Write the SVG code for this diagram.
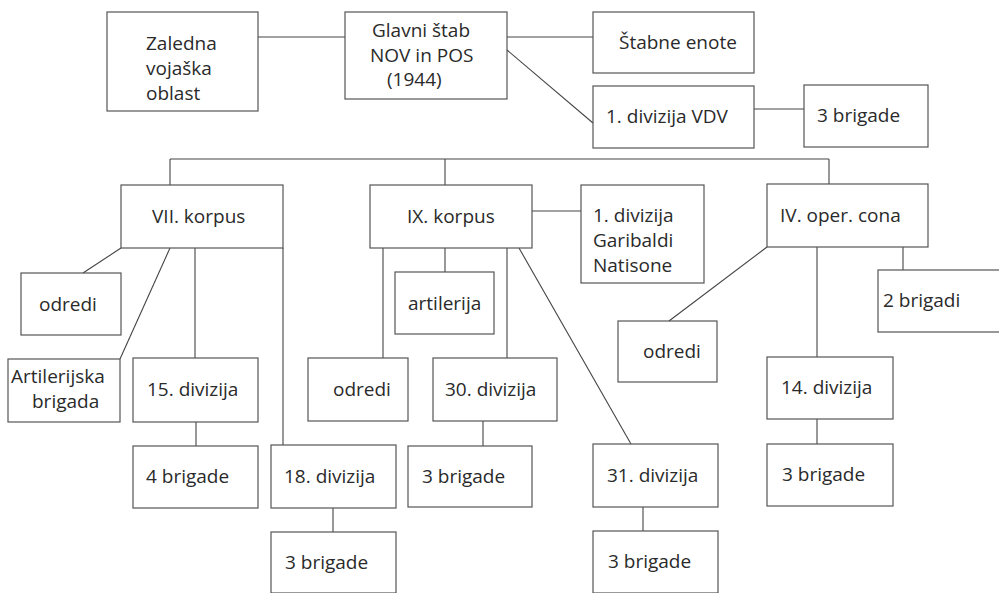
<svg xmlns="http://www.w3.org/2000/svg" width="999" height="593" viewBox="0 0 999 593">
<style>
rect.b{fill:none;stroke:#555;stroke-width:1.2}
.c line{stroke:#444;stroke-width:1.1}
text{font-family:"Open Sans","DejaVu Sans",sans-serif;font-size:19px;fill:#2a2a2a}
</style>
<rect width="999" height="593" fill="#fff"/>
<g class="c" id="connectors">
<line x1="258" y1="37" x2="345" y2="37"/>
<line x1="507" y1="37" x2="593" y2="37"/>
<line x1="507" y1="50" x2="593" y2="123"/>
<line x1="754" y1="109" x2="804" y2="109"/>
<line x1="170" y1="159" x2="829" y2="159"/>
<line x1="170" y1="159" x2="170" y2="185"/>
<line x1="445" y1="159" x2="445" y2="185"/>
<line x1="829" y1="159" x2="829" y2="184"/>
<line x1="121" y1="248" x2="83" y2="273"/>
<line x1="170" y1="248" x2="120" y2="359"/>
<line x1="195" y1="248" x2="195" y2="358"/>
<line x1="283" y1="248" x2="283" y2="445"/>
<line x1="196" y1="422" x2="196" y2="446"/>
<line x1="333" y1="508" x2="333" y2="532"/>
<line x1="532" y1="211" x2="581" y2="211"/>
<line x1="383" y1="248" x2="383" y2="358"/>
<line x1="445" y1="248" x2="445" y2="272"/>
<line x1="507" y1="248" x2="507" y2="358"/>
<line x1="519" y1="248" x2="631" y2="444"/>
<line x1="483" y1="421" x2="483" y2="446"/>
<line x1="643" y1="507" x2="643" y2="531"/>
<line x1="767" y1="247" x2="669" y2="321"/>
<line x1="817" y1="247" x2="817" y2="357"/>
<line x1="903" y1="247" x2="903" y2="270"/>
<line x1="817" y1="419" x2="817" y2="444"/>
</g>
<g id="zaledna"><rect class="b" x="107" y="12" width="151" height="99"/><text x="146" y="50">Zaledna</text><text x="146" y="75">vojaška</text><text x="146" y="100">oblast</text></g>
<g id="glavni"><rect class="b" x="345" y="12" width="162" height="87"/><text x="372" y="37">Glavni štab</text><text x="370" y="62">NOV in POS</text><text x="387" y="86">(1944)</text></g>
<g id="stabne"><rect class="b" x="593" y="12" width="161" height="61"/><text x="619" y="49">Štabne enote</text></g>
<g id="vdv"><rect class="b" x="593" y="86" width="161" height="62"/><text x="606" y="123">1. divizija VDV</text></g>
<g id="vdv-brig"><rect class="b" x="804" y="85" width="124" height="62"/><text x="817" y="122">3 brigade</text></g>
<g id="vii"><rect class="b" x="121" y="185" width="162" height="63"/><text x="152" y="223">VII. korpus</text></g>
<g id="vii-odredi"><rect class="b" x="21" y="273" width="100" height="62"/><text x="39" y="311">odredi</text></g>
<g id="art-brig"><rect class="b" x="8" y="359" width="112" height="63"/><text x="11" y="383">Artilerijska</text><text x="32" y="408">brigada</text></g>
<g id="d15"><rect class="b" x="133" y="358" width="125" height="64"/><text x="147" y="396">15. divizija</text></g>
<g id="d15-brig"><rect class="b" x="133" y="446" width="125" height="62"/><text x="146" y="483">4 brigade</text></g>
<g id="d18"><rect class="b" x="271" y="445" width="125" height="63"/><text x="284" y="483">18. divizija</text></g>
<g id="d18-brig"><rect class="b" x="271" y="532" width="125" height="61"/><text x="285" y="569">3 brigade</text></g>
<g id="ix"><rect class="b" x="370" y="185" width="162" height="63"/><text x="407" y="223">IX. korpus</text></g>
<g id="garibaldi"><rect class="b" x="581" y="185" width="123" height="98"/><text x="593" y="222">1. divizija</text><text x="593" y="247">Garibaldi</text><text x="593" y="272">Natisone</text></g>
<g id="artilerija"><rect class="b" x="395" y="272" width="99" height="62"/><text x="408" y="310">artilerija</text></g>
<g id="ix-odredi"><rect class="b" x="308" y="358" width="100" height="63"/><text x="333" y="396">odredi</text></g>
<g id="d30"><rect class="b" x="433" y="358" width="124" height="63"/><text x="445" y="396">30. divizija</text></g>
<g id="d30-brig"><rect class="b" x="408" y="446" width="124" height="61"/><text x="422" y="483">3 brigade</text></g>
<g id="d31"><rect class="b" x="593" y="444" width="125" height="63"/><text x="607" y="482">31. divizija</text></g>
<g id="d31-brig"><rect class="b" x="593" y="531" width="125" height="62"/><text x="608" y="568">3 brigade</text></g>
<g id="iv"><rect class="b" x="767" y="184" width="161" height="63"/><text x="780" y="222">IV. oper. cona</text></g>
<g id="iv-brig"><rect class="b" x="878" y="270" width="125" height="62"/><text x="883" y="307">2 brigadi</text></g>
<g id="iv-odredi"><rect class="b" x="618" y="321" width="99" height="61"/><text x="643" y="358">odredi</text></g>
<g id="d14"><rect class="b" x="767" y="357" width="126" height="62"/><text x="781" y="394">14. divizija</text></g>
<g id="d14-brig"><rect class="b" x="767" y="444" width="126" height="62"/><text x="782" y="481">3 brigade</text></g>
</svg>
